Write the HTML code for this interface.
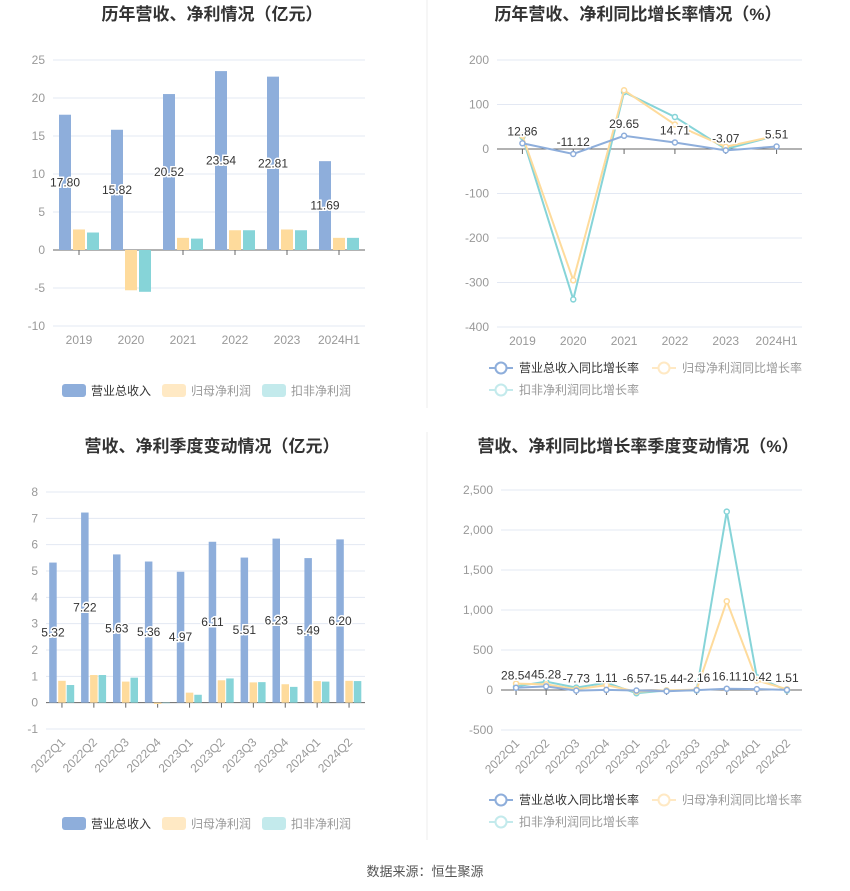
<!DOCTYPE html>
<html><head><meta charset="utf-8"><style>
body{margin:0;background:#fff;width:850px;height:891px;overflow:hidden;font-family:"Liberation Sans","Noto Sans CJK SC",sans-serif}
svg{position:absolute;left:0;top:0}
</style></head><body>
<svg id="s" width="850" height="891" xmlns="http://www.w3.org/2000/svg">
<line x1="427" y1="0" x2="427" y2="408" stroke="#eee"/>
<line x1="427" y1="432" x2="427" y2="840" stroke="#eee"/>
<text x="212" y="20" text-anchor="middle" font-size="17" font-weight="bold" fill="#333">历年营收、净利情况（亿元）</text>
<text x="638" y="20" text-anchor="middle" font-size="17" font-weight="bold" fill="#333">历年营收、净利同比增长率情况（%）</text>
<text x="212" y="452" text-anchor="middle" font-size="17" font-weight="bold" fill="#333">营收、净利季度变动情况（亿元）</text>
<text x="638" y="452" text-anchor="middle" font-size="17" font-weight="bold" fill="#333">营收、净利同比增长率季度变动情况（%）</text>
<text x="425" y="876" text-anchor="middle" font-size="13" fill="#555">数据来源：恒生聚源</text>
</svg>
<script>
const annualCats=["2019","2020","2021","2022","2023","2024H1"];
const annualRev=[17.80,15.82,20.52,23.54,22.81,11.69];
const annualNet=[2.7,-5.3,1.6,2.6,2.7,1.6];
const annualDed=[2.3,-5.5,1.5,2.6,2.6,1.6];
const annualTicks=[25,20,15,10,5,0,-5,-10];
const annualRevG=[12.86,-11.12,29.65,14.71,-3.07,5.51];
const annualNetG=[30,-295,132,55,5,30];
const annualDedG=[27,-338,128,72,0,30];
const annualGTicks=[200,100,0,-100,-200,-300,-400];
const qCats=["2022Q1","2022Q2","2022Q3","2022Q4","2023Q1","2023Q2","2023Q3","2023Q4","2024Q1","2024Q2"];
const qRev=[5.32,7.22,5.63,5.36,4.97,6.11,5.51,6.23,5.49,6.20];
const qNet=[0.83,1.05,0.8,-0.05,0.38,0.85,0.77,0.7,0.82,0.83];
const qDed=[0.67,1.05,0.95,-0.02,0.3,0.92,0.78,0.6,0.8,0.82];
const qTicks=[8,7,6,5,4,3,2,1,0,-1];
const qRevG=[28.54,45.28,-7.73,1.11,-6.57,-15.44,-2.16,16.11,10.42,1.51];
const qNetG=[80,70,10,60,-20,-5,5,1110,120,10];
const qDedG=[45,105,30,90,-40,-5,-5,2230,160,-5];
const qGTicks=[2500,2000,1500,1000,500,0,-500];

const S=document.getElementById('s');const NS="http://www.w3.org/2000/svg";
function mk(t,a,p){const e=document.createElementNS(NS,t);for(const k in a)e.setAttribute(k,a[k]);(p||S).appendChild(e);return e;}
function txt(x,y,s,a){const e=mk('text',Object.assign({x:x,y:y},a));e.textContent=s;return e;}
const C=['#8eaedb','#fedb9c','#86d4d8'];const CL=['#ffe9c4','#c3eaec'];
function axes(o){
  const y=v=>o.y0+(o.vmax-v)/(o.vmax-o.vmin)*(o.y1-o.y0);
  o.ticks.forEach(t=>{
    const g=mk('line',{x1:o.x0,x2:o.x1,y1:y(t),y2:y(t),stroke:t==0?'#666':'#e3e8f3'});
    
    const l=txt(o.x0-8,y(t)+4,o.fmt?o.fmt(t):t,{'text-anchor':'end','font-size':12,fill:'#999'});
    
  });
  const bw=(o.x1-o.x0)/o.cats.length;
  o.cats.forEach((c,i)=>{
    const cx=o.x0+bw*(i+0.5);
    mk('line',{x1:cx,x2:cx,y1:y(0),y2:y(0)+5,stroke:'#666'});
    let l;
    if(o.rot){l=txt(cx+4,o.y1+14,c,{'text-anchor':'end','font-size':12,fill:'#999',transform:`rotate(-45 ${cx+4} ${o.y1+14})`});}
    else l=txt(cx,o.y1+18,c,{'text-anchor':'middle','font-size':12,fill:'#999'});
    
  });
  return {y:y,bw:bw};
}
function label(x,y,s){
  const e=txt(x,y,s,{'text-anchor':'middle','font-size':12,fill:'#333',stroke:'#fff','stroke-width':3,'paint-order':'stroke'});
  
}
function bars(o,series,off,w){
  const a=axes(o);
  series.forEach((arr,si)=>arr.forEach((v,i)=>{
    const cx=o.x0+a.bw*(i+0.5)+off[si];
    const r=mk('rect',{x:cx-w/2,y:Math.min(a.y(v),a.y(0)),width:w,height:Math.abs(a.y(v)-a.y(0)),fill:C[si]});
    
    
  }));
  series[0].forEach((v,i)=>label(o.x0+a.bw*(i+0.5)+off[0],a.y(v/2)+4,v.toFixed(2)));
}
function lines(o,series){
  const a=axes(o);
  [2,1,0].forEach(si=>{
    const arr=series[si];
    const pts=arr.map((v,i)=>[o.x0+a.bw*(i+0.5),a.y(v)]);
    const p=mk('polyline',{points:pts.map(p=>p.join(',')).join(' '),fill:'none',stroke:C[si],'stroke-width':2});
    
    
    pts.forEach(q=>{const c=mk('circle',{cx:q[0],cy:q[1],r:2.5,fill:'#fff',stroke:C[si],'stroke-width':1.5});
      });
  });
  series[0].forEach((v,i)=>label(o.x0+a.bw*(i+0.5),a.y(v)-8,v.toFixed(2)));
}
function barLegend(y){
  const items=[['营业总收入',C[0],62,'#333'],['归母净利润',CL[0],162,'#999'],['扣非净利润',CL[1],262,'#999']];
  items.forEach(it=>{const r=mk('rect',{x:it[2],y:y-6,width:24,height:13,rx:3,fill:it[1]});
    
    const t=txt(it[2]+29,y+5,it[0],{'font-size':12,fill:it[3]});});
}
function lineLegend(y){
  const items=[['营业总收入同比增长率',C[0],489,y,'#333'],['归母净利润同比增长率',CL[0],652,y,'#999'],['扣非净利润同比增长率',CL[1],489,y+22,'#999']];
  items.forEach(it=>{mk('line',{x1:it[2],x2:it[2]+24,y1:it[3],y2:it[3],stroke:it[1],'stroke-width':2});
    const c=mk('circle',{cx:it[2]+12,cy:it[3],r:5.5,fill:'#fff',stroke:it[1],'stroke-width':2});
    
    const t=txt(it[2]+30,it[3]+4,it[0],{'font-size':12,fill:it[4]});});
}
bars({x0:53,x1:365,y0:60,y1:326,vmax:25,vmin:-10,ticks:annualTicks,cats:annualCats},[annualRev,annualNet,annualDed],[-14,0,14],12);
lines({x0:497,x1:802,y0:60,y1:327,vmax:200,vmin:-400,ticks:annualGTicks,cats:annualCats},[annualRevG,annualNetG,annualDedG]);
bars({x0:46,x1:365,y0:492,y1:729,vmax:8,vmin:-1,ticks:qTicks,cats:qCats,rot:true},[qRev,qNet,qDed],[-9,0,8.5],7.5);
lines({x0:501,x1:802,y0:490,y1:730,vmax:2500,vmin:-500,ticks:qGTicks,cats:qCats,rot:true,fmt:t=>t.toLocaleString('en-US')},[qRevG,qNetG,qDedG]);
barLegend(390);barLegend(823);lineLegend(368);lineLegend(800);
</script>
</body></html>
